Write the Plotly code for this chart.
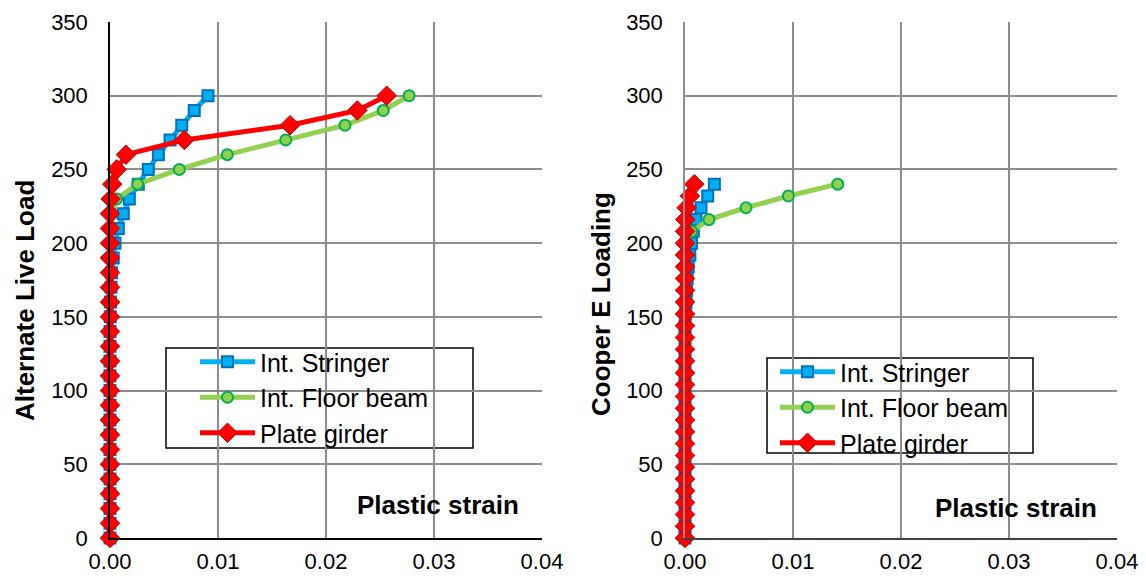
import plotly.graph_objects as go

# ---------------- data ----------------
loads_alt = list(range(0, 301, 10))          # Alternate Live Load levels (31)
stringer_alt = [0, 0, 0, 0, 0, 0, 0, 0, 0, 0, 0, 0, 0, 0, 0, 0.00003,
                0.00005, 0.0001, 0.00015, 0.0003, 0.00046, 0.00077, 0.00123, 0.00179,
                0.00262, 0.00355, 0.00448, 0.00556, 0.00664, 0.0078, 0.00907]
floor_alt = [0, 0, 0, 0, 0, 0, 0, 0, 0, 0, 0, 0, 0, 0, 0, 0,
             0, 0, 0, 0, 0, 0.00005, 0.00015, 0.00062,
             0.00256, 0.00642, 0.01086, 0.01627, 0.02176, 0.0253, 0.0277]
girder_alt = [0, 0, 0, 0, 0, 0, 0, 0, 0, 0, 0, 0, 0, 0, 0, 0,
              0, 0, 0, 0, 0, 0, 0, 0.00006,
              0.00021, 0.00062, 0.00148, 0.00688, 0.01667, 0.0229, 0.02562]

loads_cooper = list(range(0, 241, 8))        # Cooper E Loading levels (31)
stringer_cooper = [0, 0, 0, 0, 0, 0, 0, 0, 0, 0, 0, 0, 0, 0, 0, 0, 0, 0, 0,
                   0.00005, 0.0001, 0.00015, 0.0002, 0.0003, 0.00045, 0.0006,
                   0.00077, 0.00102, 0.00148, 0.0021, 0.00272]
floor_cooper = [0, 0, 0, 0, 0, 0, 0, 0, 0, 0, 0, 0, 0, 0, 0, 0, 0, 0, 0,
                0, 0, 0, 0, 0, 0, 0.0001,
                0.00062, 0.00222, 0.00565, 0.00957, 0.01414]
girder_cooper = [0, 0, 0, 0, 0, 0, 0, 0, 0, 0, 0, 0, 0, 0, 0, 0, 0, 0, 0,
                 0, 0, 0, 0, 0, 0, 0,
                 0, 0.00003, 0.00015, 0.00046, 0.00086]

series_names = ["Int. Stringer", "Int. Floor beam", "Plate girder"]
x_ticks = [0.0, 0.01, 0.02, 0.03, 0.04]
y_ticks = [0, 50, 100, 150, 200, 250, 300, 350]

# ---------------- styling ----------------
OFF = 8                      # page body margin offset
W, H = 1146 - OFF, 582 - OFF
TOP, BOT = 22, 538           # plot area in screen pixels
MT = TOP - OFF
MB = H - (BOT - OFF)
PH = H - MT - MB
FONT = "Liberation Sans, Arial, sans-serif"

styles = [
    dict(line=dict(color="#00B0F0", width=5),
         marker=dict(symbol="square", size=11, color="#00B0F0",
                     line=dict(color="#0070C0", width=2))),
    dict(line=dict(color="#92D050", width=5),
         marker=dict(symbol="circle", size=11, color="#92D050",
                     line=dict(color="#00B050", width=2))),
    dict(line=dict(color="#FF0000", width=5),
         marker=dict(symbol="diamond", size=15, color="#FF0000",
                     line=dict(color="#C00000", width=1))),
]


def px(x):
    return (x - OFF) / W


def py(y):
    return (BOT - y) / PH


fig = go.Figure()
left = [stringer_alt, floor_alt, girder_alt]
right = [stringer_cooper, floor_cooper, girder_cooper]
for i, (name, xs) in enumerate(zip(series_names, left)):
    fig.add_trace(go.Scatter(x=xs, y=loads_alt, name=name, mode="lines+markers",
                             xaxis="x", yaxis="y", legend="legend", cliponaxis=False,
                             **styles[i]))
for i, (name, xs) in enumerate(zip(series_names, right)):
    fig.add_trace(go.Scatter(x=xs, y=loads_cooper, name=name, mode="lines+markers",
                             xaxis="x2", yaxis="y2", legend="legend2", cliponaxis=False,
                             **styles[i]))

grid = "#8C8C8C"
common_x = dict(range=[0, 0.04], tickvals=x_ticks, tickformat=".2f", showgrid=True,
                gridcolor=grid, gridwidth=1.5, zeroline=False, showline=True,
                linewidth=1.5, ticks="", ticklabelstandoff=3, automargin=False,
                tickfont=dict(family=FONT, size=22, color="black"))
common_y = dict(range=[0, 350], tickvals=y_ticks, showgrid=True, gridcolor=grid,
                gridwidth=1.5, zeroline=False, showline=True, linewidth=1.5,
                ticks="", ticklabelstandoff=16, automargin=False,
                tickfont=dict(family=FONT, size=22, color="black"))

legend_common = dict(xanchor="left", yanchor="top", bgcolor="rgba(0,0,0,0)",
                     borderwidth=0, itemwidth=55, tracegroupgap=0,
                     font=dict(family=FONT, size=25, color="black"))

title_font = dict(family=FONT, size=26, color="black", weight="bold")

fig.update_layout(
    width=W, height=H,
    margin=dict(l=0, r=0, t=MT, b=MB, autoexpand=False),
    paper_bgcolor="white", plot_bgcolor="white",
    font=dict(family=FONT, color="black"),
    xaxis=dict(domain=[px(110), px(542)], anchor="y", linecolor="black", **common_x),
    yaxis=dict(domain=[0, 1], anchor="x", linecolor="black", **common_y),
    xaxis2=dict(domain=[px(685), px(1117)], anchor="y2", linecolor="#404040", **common_x),
    yaxis2=dict(domain=[0, 1], anchor="x2", linecolor="#8C8C8C", **common_y),
    legend=dict(x=px(195), y=py(339), **legend_common),
    legend2=dict(x=px(775), y=py(349), **legend_common),
    shapes=[
        dict(type="rect", xref="paper", yref="paper", x0=px(166), x1=px(473),
             y0=py(448), y1=py(348), fillcolor="white",
             line=dict(color="black", width=1.5), layer="between"),
        dict(type="rect", xref="paper", yref="paper", x0=px(767), x1=px(1033),
             y0=py(453), y1=py(358), fillcolor="white",
             line=dict(color="black", width=1.5), layer="between"),
    ],
    annotations=[
        dict(text="Alternate Live Load", xref="paper", yref="paper", x=px(25), y=py(301),
             textangle=-90, showarrow=False, xanchor="center", yanchor="middle",
             font=title_font),
        dict(text="Cooper E Loading", xref="paper", yref="paper", x=px(601), y=py(304),
             textangle=-90, showarrow=False, xanchor="center", yanchor="middle",
             font=title_font),
        dict(text="Plastic strain", xref="paper", yref="paper", x=px(438), y=py(505),
             showarrow=False, xanchor="center", yanchor="middle", font=title_font),
        dict(text="Plastic strain", xref="paper", yref="paper", x=px(1016), y=py(508),
             showarrow=False, xanchor="center", yanchor="middle", font=title_font),
    ],
)

fig.write_html("out.html")
